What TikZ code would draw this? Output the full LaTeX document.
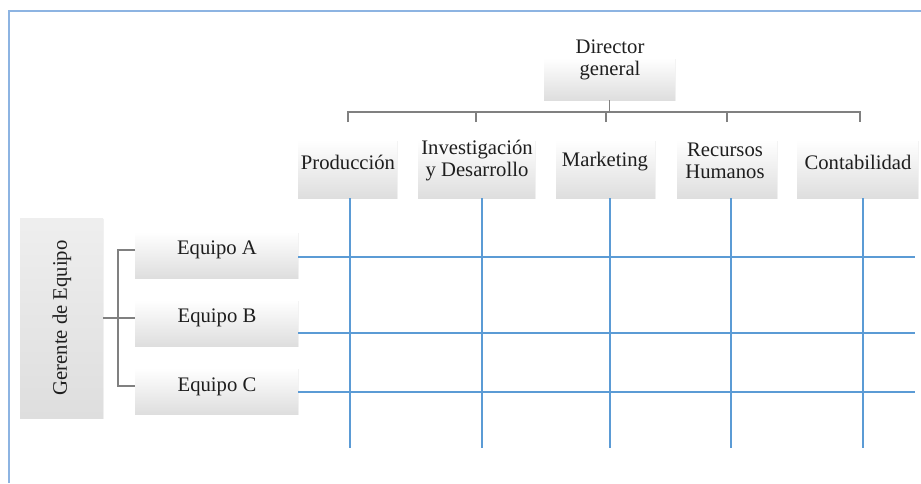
\documentclass[tikz,border=0pt]{standalone}
\usepackage{fontspec}
\setmainfont{Liberation Serif}
\usetikzlibrary{shadows}
\definecolor{framecol}{RGB}{141,180,226}
\definecolor{gridcol}{RGB}{91,155,213}
\definecolor{conncol}{RGB}{128,128,128}
\definecolor{boxgrey}{RGB}{222,222,222}
\definecolor{txtcol}{RGB}{30,30,30}
\tikzset{
  box/.style={rectangle, inner sep=0pt, top color=white, middle color=white!70!boxgrey, bottom color=boxgrey,
    drop shadow={opacity=0.10, shadow xshift=0.8pt, shadow yshift=-0.8pt}},
  vbox/.style={rectangle, inner sep=0pt, top color=white!50!boxgrey, bottom color=boxgrey,
    drop shadow={opacity=0.10, shadow xshift=0.8pt, shadow yshift=-0.8pt}},
  lbl/.style={inner sep=0pt, align=center, text=txtcol,
    font=\fontsize{15.5}{16.5}\selectfont},
  conn/.style={draw=conncol, line width=1.3pt},
  grid/.style={draw=gridcol, line width=2.1pt},
  frame/.style={draw=framecol, line width=2.2pt}
}
\begin{document}
\begin{tikzpicture}[x=0.75pt,y=-0.75pt]
\useasboundingbox (0,0) rectangle (921,483);
% frame
\coordinate (f1) at (9,483);
\coordinate (f2) at (9,11);
\coordinate (f3) at (921,11);
\draw[frame] (f1) -- (f2) -- (f3);

% top boxes
\node[box, minimum width=131*0.75pt, minimum height=42*0.75pt] (dir) at (609.5,79) {};
\node[lbl] (tdir) at (610,60) {Director\\general};

\node[box, minimum width=99*0.75pt, minimum height=58*0.75pt] (prod) at (347.5,169) {};
\node[box, minimum width=117*0.75pt, minimum height=58*0.75pt] (inv) at (476.5,169) {};
\node[box, minimum width=99*0.75pt, minimum height=58*0.75pt] (mkt) at (605.5,169) {};
\node[box, minimum width=100*0.75pt, minimum height=58*0.75pt] (rh) at (727,169) {};
\node[box, minimum width=121*0.75pt, minimum height=58*0.75pt] (cont) at (857.5,169) {};
\node[lbl] (tprod) at (348,162) {Producción};
\node[lbl] (tinv) at (477,161) {Investigación\\y Desarrollo};
\node[lbl] (tmkt) at (605,162) {Marketing};
\node[lbl] (trh) at (725,161) {Recursos\\Humanos};
\node[lbl] (tcont) at (858,162) {Contabilidad};

% org connectors
\coordinate (bus) at (609,112);
\coordinate (bl) at (348,112);
\coordinate (br) at (860,112);
\coordinate (k1) at (348,122);
\coordinate (k2) at (476,122);
\coordinate (k3) at (606,122);
\coordinate (k4) at (727,122);
\coordinate (k5) at (860,122);
\draw[conn] (dir.south) -- (dir.south |- bus);
\draw[conn] (k1) -- (bl) -- (br) -- (k5);
\draw[conn] (k2) -- (k2 |- bus);
\draw[conn] (k3) -- (k3 |- bus);
\draw[conn] (k4) -- (k4 |- bus);

% left side
\node[vbox, minimum width=83*0.75pt, minimum height=200*0.75pt] (ger) at (61.5,318) {};
\node[lbl, rotate=90] (tger) at (62,318) {Gerente de Equipo};

\node[box, minimum width=163*0.75pt, minimum height=46*0.75pt] (ea) at (216.5,255) {};
\node[box, minimum width=163*0.75pt, minimum height=46*0.75pt] (eb) at (216.5,323) {};
\node[box, minimum width=163*0.75pt, minimum height=46*0.75pt] (ec) at (216.5,391) {};
\node[lbl] (tea) at (217,250) {Equipo A};
\node[lbl] (teb) at (217,318) {Equipo B};
\node[lbl] (tec) at (217,387) {Equipo C};

\coordinate (ba) at (118,250);
\coordinate (bc) at (118,386);
\coordinate (bm) at (135,318);
\draw[conn] (ger.east |- bm) -- (bm);
\draw[conn] (135,250) -- (ba) -- (bc) -- (135,386);

% matrix grid
\coordinate (g1) at (350,448);
\coordinate (g2) at (482,448);
\coordinate (g3) at (610,448);
\coordinate (g4) at (731,448);
\coordinate (g5) at (863,448);
\draw[grid] (prod.south -| g1) -- (g1);
\draw[grid] (inv.south -| g2) -- (g2);
\draw[grid] (mkt.south -| g3) -- (g3);
\draw[grid] (rh.south -| g4) -- (g4);
\draw[grid] (cont.south -| g5) -- (g5);
\coordinate (h1) at (915,257);
\coordinate (h2) at (915,333);
\coordinate (h3) at (915,392);
\draw[grid] (ea.east |- h1) -- (h1);
\draw[grid] (eb.east |- h2) -- (h2);
\draw[grid] (ec.east |- h3) -- (h3);
\end{tikzpicture}
\end{document}
